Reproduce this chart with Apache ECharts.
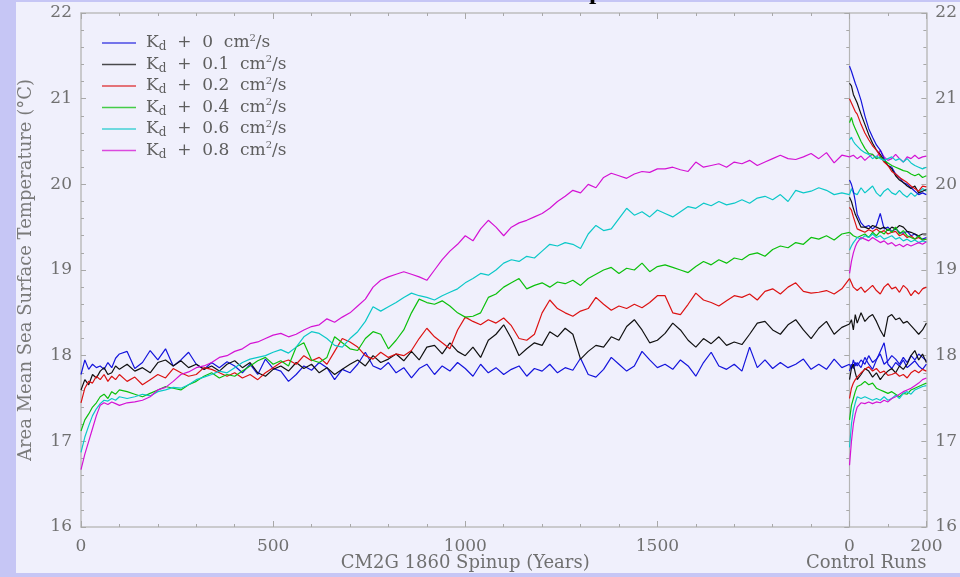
<!DOCTYPE html>
<html>
<head>
<meta charset="utf-8">
<script src="https://cdn.jsdelivr.net/npm/echarts@6/dist/echarts.min.js"></script>
<style>
html,body{margin:0;padding:0;background:#c6c6f5;}
#chart{width:960px;height:577px;}
</style>
</head>
<body>
<div id="chart"></div>
<script>
// ---------------- DATA ----------------
const kdValues = ['0', '0.1', '0.2', '0.4', '0.6', '0.8'];
const xTickValues = [0, 500, 1000, 1500, 2000, 2200];
const xTickLabels = ['0', '500', '1000', '1500', '0', '200'];

// spinup years (0..2000)
const spinYears = [0,10,20,30,40,50,60,70,80,90,100,
 120,140,160,180,200,220,240,260,280,300,
 320,340,360,380,400,420,440,460,480,500,
 520,540,560,580,600,620,640,660,680,700,
 720,740,760,780,800,820,840,860,880,900,
 920,940,960,980,1000,1020,1040,1060,1080,1100,
 1120,1140,1160,1180,1200,1220,1240,1260,1280,1300,
 1320,1340,1360,1380,1400,1420,1440,1460,1480,1500,
 1520,1540,1560,1580,1600,1620,1640,1660,1680,1700,
 1720,1740,1760,1780,1800,1820,1840,1860,1880,1900,
 1920,1940,1960,1980,2000];

const spinKd0 = [17.78,17.95,17.84,17.9,17.86,17.88,17.84,17.92,17.86,17.97,18.02,
 18.05,17.85,17.92,18.06,17.95,18.08,17.88,17.95,18.04,17.9,
 17.84,17.92,17.86,17.93,17.88,17.8,17.9,17.78,17.96,17.85,
 17.82,17.7,17.78,17.88,17.83,17.92,17.86,17.72,17.84,17.8,
 17.9,18.04,17.88,17.84,17.92,17.8,17.86,17.74,17.85,17.9,
 17.78,17.88,17.82,17.92,17.85,17.76,17.9,17.8,17.86,17.78,
 17.84,17.88,17.76,17.85,17.82,17.9,17.8,17.86,17.83,17.97,
 17.78,17.75,17.84,17.98,17.9,17.82,17.88,18.05,17.95,17.86,
 17.9,17.84,17.95,17.88,17.76,17.92,18.04,17.88,17.84,17.9,
 17.82,18.1,17.86,17.95,17.85,17.92,17.86,17.9,17.96,17.84,
 17.9,17.84,17.96,17.86,17.9];

const spinKd01 = [17.6,17.72,17.66,17.78,17.74,17.82,17.86,17.78,17.8,17.88,17.84,
 17.9,17.82,17.86,17.8,17.92,17.95,17.88,17.94,17.86,17.9,
 17.84,17.88,17.82,17.9,17.94,17.86,17.92,17.8,17.76,17.84,
 17.88,17.82,17.92,17.85,17.9,17.8,17.86,17.78,17.84,17.9,
 17.95,17.88,18.0,17.92,17.96,18.02,17.94,18.05,17.95,18.1,
 18.12,18.02,18.15,18.05,18.0,18.1,17.98,18.18,18.25,18.36,
 18.2,18.0,18.08,18.15,18.12,18.28,18.22,18.32,18.25,17.96,
 18.05,18.12,18.1,18.22,18.18,18.34,18.42,18.3,18.15,18.18,
 18.26,18.38,18.3,18.18,18.1,18.2,18.14,18.22,18.12,18.16,
 18.13,18.25,18.38,18.4,18.3,18.25,18.36,18.42,18.3,18.2,
 18.32,18.4,18.25,18.33,18.37];

const spinKd02 = [17.45,17.62,17.7,17.68,17.76,17.72,17.78,17.7,17.76,17.72,17.78,
 17.7,17.75,17.66,17.72,17.78,17.74,17.85,17.8,17.76,17.78,
 17.86,17.84,17.8,17.76,17.8,17.74,17.78,17.72,17.8,17.86,
 17.92,17.95,17.9,18.0,17.94,17.98,17.9,18.05,18.2,18.16,
 18.1,18.0,17.96,18.04,17.98,18.02,18.0,18.06,18.2,18.32,
 18.22,18.15,18.08,18.3,18.45,18.4,18.36,18.42,18.38,18.44,
 18.35,18.2,18.18,18.25,18.5,18.65,18.55,18.5,18.46,18.52,
 18.55,18.68,18.6,18.53,18.58,18.55,18.6,18.56,18.62,18.7,
 18.7,18.5,18.48,18.6,18.73,18.65,18.62,18.58,18.64,18.7,
 18.68,18.72,18.65,18.75,18.78,18.72,18.8,18.85,18.75,18.73,
 18.74,18.76,18.72,18.78,18.9];

const spinKd04 = [17.12,17.25,17.32,17.4,17.45,17.52,17.55,17.5,17.58,17.55,17.6,
 17.58,17.55,17.52,17.56,17.6,17.64,17.62,17.6,17.66,17.7,
 17.76,17.8,17.74,17.78,17.76,17.82,17.88,17.94,17.98,17.9,
 17.94,17.88,18.1,18.15,17.95,17.92,17.98,18.22,18.15,18.08,
 18.06,18.2,18.28,18.25,18.08,18.18,18.3,18.5,18.66,18.62,
 18.6,18.64,18.58,18.5,18.45,18.46,18.5,18.68,18.72,18.8,
 18.85,18.9,18.78,18.82,18.85,18.8,18.86,18.84,18.88,18.82,
 18.9,18.95,19.0,19.03,18.96,19.02,19.0,19.08,18.98,19.04,
 19.06,19.03,19.0,18.97,19.04,19.1,19.06,19.12,19.08,19.14,
 19.12,19.18,19.2,19.16,19.24,19.28,19.26,19.32,19.3,19.38,
 19.36,19.4,19.35,19.42,19.44];

const spinKd06 = [16.87,17.05,17.18,17.3,17.38,17.44,17.48,17.47,17.5,17.48,17.52,
 17.5,17.52,17.55,17.53,17.58,17.6,17.63,17.62,17.66,17.72,
 17.75,17.78,17.82,17.8,17.86,17.92,17.96,17.98,18.0,18.04,
 18.07,18.03,18.1,18.22,18.28,18.26,18.2,18.12,18.1,18.2,
 18.28,18.4,18.57,18.52,18.57,18.62,18.68,18.73,18.7,18.68,
 18.65,18.7,18.74,18.78,18.85,18.9,18.96,18.94,19.0,19.08,
 19.12,19.1,19.16,19.14,19.22,19.3,19.28,19.32,19.3,19.25,
 19.42,19.52,19.46,19.48,19.6,19.72,19.64,19.68,19.62,19.7,
 19.66,19.62,19.68,19.74,19.72,19.78,19.75,19.8,19.76,19.78,
 19.82,19.78,19.84,19.86,19.82,19.88,19.8,19.93,19.9,19.92,
 19.96,19.93,19.88,19.9,19.88];

const spinKd08 = [16.67,16.85,17.0,17.15,17.3,17.42,17.45,17.43,17.46,17.44,17.42,
 17.45,17.46,17.48,17.52,17.6,17.63,17.7,17.78,17.81,17.86,
 17.88,17.92,17.98,18.0,18.05,18.08,18.14,18.16,18.2,18.24,
 18.26,18.22,18.25,18.3,18.34,18.36,18.43,18.39,18.45,18.5,
 18.58,18.66,18.8,18.88,18.92,18.95,18.98,18.95,18.92,18.88,
 19.0,19.12,19.22,19.3,19.4,19.34,19.48,19.58,19.5,19.4,
 19.5,19.55,19.58,19.62,19.66,19.72,19.8,19.86,19.93,19.9,
 20.0,19.96,20.08,20.13,20.1,20.07,20.12,20.15,20.14,20.18,
 20.18,20.2,20.17,20.15,20.26,20.2,20.22,20.24,20.2,20.26,
 20.24,20.28,20.22,20.26,20.3,20.34,20.3,20.29,20.32,20.36,
 20.3,20.37,20.25,20.34,20.32];

// control runs (years 0..200 after spinup)
const ctrlYears = [0,5,10,15,20,30,40,50,60,70,80,90,100,110,120,130,140,150,160,170,180,190,200];

// continuation from the end of the spinup
const ctrlContKd0  = [17.9,17.85,17.95,17.88,17.92,17.86,17.98,17.9,17.84,17.95,18.05,18.15,17.9,17.85,17.92,17.88,17.95,17.86,17.9,17.94,17.88,17.84,17.9];
const ctrlContKd01 = [18.37,18.42,18.3,18.48,18.38,18.5,18.4,18.45,18.48,18.4,18.3,18.22,18.45,18.48,18.42,18.44,18.38,18.4,18.35,18.3,18.25,18.3,18.38];
const ctrlContKd02 = [18.9,18.85,18.8,18.82,18.76,18.8,18.74,18.78,18.82,18.76,18.72,18.8,18.84,18.78,18.8,18.74,18.82,18.78,18.7,18.76,18.72,18.78,18.8];
const ctrlContKd06 = [19.88,19.95,19.9,19.92,19.88,19.96,19.9,19.94,19.98,19.9,19.86,19.92,19.95,19.9,19.88,19.93,19.88,19.85,19.9,19.86,19.9,19.95,19.92];
const ctrlContKd08 = [20.32,20.3,20.34,20.36,20.3,20.33,20.28,20.32,20.35,20.3,20.4,20.32,20.28,20.3,20.35,20.3,20.26,20.32,20.3,20.34,20.3,20.32,20.33];

// warm start
const ctrlWarmKd0  = [21.38,21.32,21.25,21.18,21.12,20.98,20.8,20.65,20.55,20.46,20.4,20.3,20.22,20.2,20.12,20.08,20.02,20.0,19.96,19.92,19.88,19.9,19.88];
const ctrlWarmKd01 = [21.18,21.15,21.05,21.0,20.95,20.82,20.7,20.58,20.48,20.4,20.35,20.28,20.22,20.18,20.1,20.05,20.02,19.98,19.95,19.98,19.9,19.92,19.94];
const ctrlWarmKd02 = [21.0,20.95,20.9,20.85,20.82,20.7,20.6,20.52,20.45,20.4,20.33,20.26,20.22,20.15,20.12,20.08,20.05,20.02,19.98,19.95,19.92,19.98,19.97];
const ctrlWarmKd04 = [20.72,20.78,20.7,20.65,20.6,20.5,20.42,20.36,20.35,20.3,20.32,20.28,20.25,20.22,20.2,20.18,20.16,20.15,20.12,20.1,20.12,20.08,20.1];
const ctrlWarmKd06 = [20.52,20.55,20.5,20.47,20.45,20.4,20.37,20.35,20.3,20.33,20.3,20.28,20.3,20.32,20.28,20.3,20.26,20.3,20.25,20.22,20.2,20.18,20.2];

// intermediate start
const ctrlMidKd0  = [20.05,20.0,19.92,19.8,19.65,19.55,19.5,19.52,19.48,19.52,19.66,19.48,19.5,19.45,19.48,19.44,19.43,19.45,19.4,19.42,19.38,19.36,19.38];
const ctrlMidKd01 = [19.85,19.8,19.72,19.65,19.6,19.5,19.5,19.48,19.52,19.5,19.48,19.5,19.46,19.5,19.48,19.52,19.5,19.45,19.44,19.42,19.4,19.42,19.42];
const ctrlMidKd02 = [19.73,19.7,19.62,19.55,19.48,19.46,19.44,19.47,19.45,19.48,19.44,19.46,19.42,19.44,19.45,19.4,19.42,19.38,19.4,19.36,19.38,19.35,19.36];
const ctrlMidKd04 = [19.44,19.42,19.4,19.42,19.38,19.4,19.42,19.38,19.44,19.4,19.45,19.42,19.48,19.44,19.5,19.42,19.46,19.4,19.38,19.36,19.4,19.35,19.36];
const ctrlMidKd06 = [19.23,19.28,19.32,19.35,19.38,19.36,19.4,19.38,19.42,19.38,19.4,19.36,19.38,19.4,19.36,19.38,19.34,19.36,19.33,19.35,19.32,19.34,19.33];
const ctrlMidKd08 = [18.96,19.1,19.2,19.27,19.32,19.38,19.36,19.34,19.38,19.35,19.32,19.34,19.3,19.32,19.28,19.3,19.27,19.3,19.28,19.3,19.32,19.3,19.33];

// cold start
const ctrlColdKd0  = [17.82,17.9,17.85,17.92,17.88,17.95,17.9,18.0,17.92,17.96,18.02,17.9,17.94,18.0,17.96,17.9,17.98,17.92,18.0,17.95,18.02,17.98,17.94];
const ctrlColdKd01 = [17.72,17.85,17.9,17.8,17.72,17.78,17.85,17.82,17.75,17.8,17.72,17.78,17.82,17.85,17.8,17.88,17.84,17.9,18.0,18.06,17.95,18.02,17.92];
const ctrlColdKd02 = [17.5,17.62,17.68,17.72,17.75,17.8,17.84,17.87,17.82,17.85,17.8,17.82,17.77,17.78,17.8,17.76,17.78,17.74,17.8,17.83,17.8,17.84,17.82];
const ctrlColdKd04 = [17.25,17.42,17.5,17.58,17.64,17.66,17.7,17.66,17.68,17.62,17.6,17.58,17.56,17.58,17.55,17.52,17.56,17.55,17.6,17.62,17.64,17.66,17.68];
const ctrlColdKd06 = [16.93,17.2,17.36,17.45,17.52,17.5,17.52,17.5,17.48,17.5,17.48,17.52,17.48,17.5,17.54,17.5,17.56,17.58,17.55,17.6,17.62,17.64,17.65];
const ctrlColdKd08 = [16.72,17.0,17.2,17.32,17.4,17.45,17.44,17.46,17.44,17.46,17.45,17.48,17.46,17.5,17.52,17.55,17.58,17.6,17.62,17.65,17.68,17.72,17.74];

// ---------------- STYLE ----------------
const colors = ['#1414dc', '#111111', '#dc1212', '#0cc00c', '#0cc8c8', '#d412d4'];
const FONT = 'DejaVu Serif';
const TXT = '#707070';
const AXC = '#bdbdbd';
const SPIN_END = 2000;

const chart = echarts.init(document.getElementById('chart'), null, {renderer: 'canvas'});

function spinSeries(idx, vals) {
  return {
    name: kdValues[idx], type: 'line', symbol: 'none', animation: false,
    data: spinYears.map((yr, i) => [yr, vals[i]]),
    lineStyle: {color: colors[idx], width: 1.2}, itemStyle: {color: colors[idx]}
  };
}
function ctrlSeries(tag, idx, vals) {
  return {
    name: 'ctrl-' + tag + '-' + kdValues[idx], type: 'line', symbol: 'none', animation: false,
    data: ctrlYears.map((yr, i) => [SPIN_END + yr, vals[i]]),
    lineStyle: {color: colors[idx], width: 1.2}, itemStyle: {color: colors[idx]}
  };
}

const series = [
  spinSeries(0, spinKd0), spinSeries(1, spinKd01), spinSeries(2, spinKd02),
  spinSeries(3, spinKd04), spinSeries(4, spinKd06), spinSeries(5, spinKd08),
  ctrlSeries('cont', 0, ctrlContKd0), ctrlSeries('cont', 1, ctrlContKd01), ctrlSeries('cont', 2, ctrlContKd02),
  ctrlSeries('cont', 4, ctrlContKd06), ctrlSeries('cont', 5, ctrlContKd08),
  ctrlSeries('warm', 0, ctrlWarmKd0), ctrlSeries('warm', 1, ctrlWarmKd01), ctrlSeries('warm', 2, ctrlWarmKd02),
  ctrlSeries('warm', 3, ctrlWarmKd04), ctrlSeries('warm', 4, ctrlWarmKd06),
  ctrlSeries('mid', 0, ctrlMidKd0), ctrlSeries('mid', 1, ctrlMidKd01), ctrlSeries('mid', 2, ctrlMidKd02),
  ctrlSeries('mid', 3, ctrlMidKd04), ctrlSeries('mid', 4, ctrlMidKd06), ctrlSeries('mid', 5, ctrlMidKd08),
  ctrlSeries('cold', 0, ctrlColdKd0), ctrlSeries('cold', 1, ctrlColdKd01), ctrlSeries('cold', 2, ctrlColdKd02),
  ctrlSeries('cold', 3, ctrlColdKd04), ctrlSeries('cold', 4, ctrlColdKd06), ctrlSeries('cold', 5, ctrlColdKd08)
];

const gridLeft = 81, gridRight = 31, gridTop = 13, gridBottom = 50;
const gridWidth = 960 - gridLeft - gridRight;
const xMax = 2200;
const dividerOffset = -gridWidth * (xMax - SPIN_END) / xMax;

function xAxisDef(pos, interval, tickLen, showLabel, showLine) {
  return {
    type: 'value', min: 0, max: xMax, interval: interval, position: pos,
    axisLine: {show: showLine, onZero: false, lineStyle: {color: AXC, width: 1.5}},
    axisTick: {show: true, inside: true, length: tickLen, lineStyle: {color: '#a8a8a8', width: 1}},
    axisLabel: {
      show: showLabel, interval: 0, showMaxLabel: true, showMinLabel: true,
      color: TXT, fontFamily: FONT, fontSize: 17, margin: 11,
      formatter: function (v) {
        const k = xTickValues.indexOf(v);
        return k >= 0 ? xTickLabels[k] : '';
      }
    },
    splitLine: {show: false}
  };
}
function yAxisDef(pos, showLabel, offset) {
  return {
    type: 'value', min: 16, max: 22, interval: 1, position: pos, offset: offset || 0,
    axisLine: {show: true, onZero: false, lineStyle: {color: AXC, width: 1.5}},
    axisTick: {show: true, inside: true, length: 5, lineStyle: {color: '#a8a8a8'}},
    minorTick: {show: true, splitNumber: 5, length: 3, lineStyle: {color: '#a8a8a8'}},
    axisLabel: {show: showLabel, color: TXT, fontFamily: FONT, fontSize: 17, margin: 9},
    splitLine: {show: false}, minorSplitLine: {show: false}
  };
}

const yLeft = yAxisDef('left', true);
yLeft.name = 'Area Mean Sea Surface Temperature (°C)';
yLeft.nameLocation = 'middle';
yLeft.nameGap = 46;
yLeft.nameTextStyle = {color: '#7a7a7a', fontFamily: FONT, fontSize: 18};
const yDivider = yAxisDef('right', false, dividerOffset);
yDivider.axisLine.lineStyle = {color: '#b5b5b5', width: 1.2};

const option = {
  backgroundColor: '#c6c6f5',
  animation: false,
  grid: {left: gridLeft, right: gridRight, top: gridTop, bottom: gridBottom, containLabel: false},
  legend: {
    data: kdValues.map((n, i) => ({name: n, icon: 'rect', itemStyle: {color: colors[i], opacity: 0.75}})),
    orient: 'vertical', left: 97, top: 28,
    itemWidth: 34, itemHeight: 1.6, itemGap: 1.5, selectedMode: false,
    formatter: n => 'K{d|d}  +  ' + n + '  cm{s|2}/s',
    textStyle: {
      color: '#5e5e5e', fontFamily: FONT, fontSize: 17, lineHeight: 20, padding: [0, 0, 0, 5],
      rich: {
        d: {fontFamily: FONT, fontSize: 12, color: '#5e5e5e', lineHeight: 7, verticalAlign: 'bottom'},
        s: {fontFamily: FONT, fontSize: 10, color: '#5e5e5e', lineHeight: 6, verticalAlign: 'top'}
      }
    }
  },
  xAxis: [
    xAxisDef('bottom', 100, 3, true, true),
    xAxisDef('bottom', 500, 6, false, false),
    xAxisDef('top', 100, 3, false, true),
    xAxisDef('top', 500, 6, false, false)
  ],
  yAxis: [yLeft, yAxisDef('right', true), yDivider],
  series: series,
  graphic: []
};
chart.setOption(option);

// text placed with the axis scale
const xSpinMid = chart.convertToPixel({xAxisIndex: 0}, 1000);
const xEnd = chart.convertToPixel({xAxisIndex: 0}, xMax);
chart.setOption({
  graphic: [
    {type: 'rect', z: -10, silent: true, shape: {x: 16, y: 2, width: 944, height: 571}, style: {fill: '#f0f0fc'}},
    {type: 'text', z: 10, silent: true, x: xSpinMid, y: 563,
      style: {text: 'CM2G 1860 Spinup (Years)', fill: TXT, font: '18px "DejaVu Serif"', align: 'center', verticalAlign: 'middle'}},
    {type: 'text', z: 10, silent: true, x: xEnd, y: 563,
      style: {text: 'Control Runs', fill: TXT, font: '18px "DejaVu Serif"', align: 'right', verticalAlign: 'middle'}},
    {type: 'text', z: 10, silent: true, x: 589, y: 5,
      style: {text: 'p', fill: '#000', font: 'bold 26px "Liberation Serif"', align: 'left', verticalAlign: 'bottom'}}
  ]
});
</script>
</body>
</html>
